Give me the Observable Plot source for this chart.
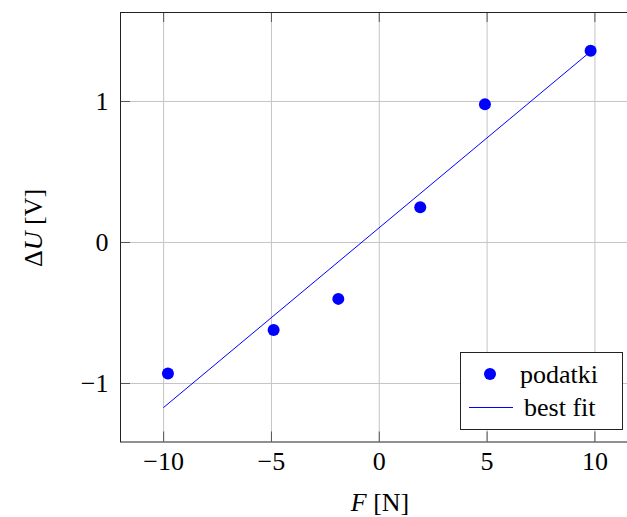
<!DOCTYPE html>
<html>
<head>
<meta charset="utf-8">
<script src="https://cdn.jsdelivr.net/npm/d3@7"></script>
<script src="https://cdn.jsdelivr.net/npm/@observablehq/plot@0.6"></script>
<style>
  html, body { margin: 0; padding: 0; background: #fff; }
  #chart { width: 627px; height: 517px; overflow: hidden; }
</style>
</head>
<body>
<div id="chart"></div>
<script>
// Data
const forceN = [-9.8, -4.9, -1.9, 1.9, 4.9, 9.8];
const deltaU = [-0.93, -0.62, -0.40, 0.25, 0.98, 1.36];
const fitF = [-10, 10];
const fitU = [-1.17, 1.38];
const xTicks = [-10, -5, 0, 5, 10];
const yTicks = [-1, 0, 1];
const legendLabels = ["podatki", "best fit"];

const points = forceN.map((f, i) => ({f, u: deltaU[i]}));
const fit = fitF.map((f, i) => ({f, u: fitU[i]}));

const W = 627, H = 517;
const mL = 120, mR = -3, mT = 12, mB = 75.5;
const plotW = W - mL - mR, plotH = H - mT - mB;
const FONT = "'Liberation Serif', 'Times New Roman', serif";
const blue = "#0000ff";
const fmt = d => (d < 0 ? "\u2212" + Math.abs(d) : String(d));

const chart = Plot.plot({
  width: W,
  height: H,
  marginLeft: mL,
  marginRight: mR,
  marginTop: mT,
  marginBottom: mB,
  style: {fontFamily: FONT, fontSize: "26px", background: "#fff", color: "#000", overflow: "hidden"},
  x: {domain: [-12, 11.65]},
  y: {domain: [-1.415, 1.631]},
  marks: [
    Plot.gridX(xTicks, {stroke: "#c4c4c4", strokeOpacity: 1, strokeWidth: 1}),
    Plot.gridY(yTicks, {stroke: "#c4c4c4", strokeOpacity: 1, strokeWidth: 1}),
    Plot.tickX(xTicks, {x: d => d, stroke: "#555", insetTop: plotH - 10}),
    Plot.tickX(xTicks, {x: d => d, stroke: "#555", insetBottom: plotH - 10}),
    Plot.tickY(yTicks, {y: d => d, stroke: "#555", insetRight: plotW - 10}),
    Plot.axisX(xTicks, {anchor: "bottom", tickSize: 0, tickPadding: 10, label: null, fontSize: 26, tickFormat: fmt}),
    Plot.axisY(yTicks, {anchor: "left", tickSize: 0, tickPadding: 12, label: null, fontSize: 26, tickFormat: fmt}),
    Plot.line(fit, {x: "f", y: "u", stroke: blue, strokeWidth: 1}),
    Plot.dot(points, {x: "f", y: "u", r: 6, fill: blue, stroke: "none"}),
    Plot.frame({stroke: "#222", strokeWidth: 1})
  ]
});

document.getElementById("chart").appendChild(chart);

const svg = d3.select(chart);

// Axis labels
const xl = svg.append("text")
  .attr("x", 380).attr("y", 511)
  .attr("text-anchor", "middle")
  .attr("font-family", FONT).attr("font-size", 26).attr("fill", "#000");
xl.append("tspan").attr("font-style", "italic").text("F");
xl.append("tspan").text(" [N]");

const yl = svg.append("text")
  .attr("transform", "translate(42,228) rotate(-90)")
  .attr("text-anchor", "middle")
  .attr("font-family", FONT).attr("font-size", 26).attr("fill", "#000");
yl.append("tspan").text("Δ");
yl.append("tspan").attr("font-style", "italic").text("U");
yl.append("tspan").text(" [V]");

// Legend
const lg = svg.append("g").attr("transform", "translate(460,352)");
lg.append("rect").attr("x", 0.5).attr("y", 0.5).attr("width", 162).attr("height", 77)
  .attr("fill", "#fff").attr("stroke", "#222").attr("stroke-width", 1);
lg.append("circle").attr("cx", 30).attr("cy", 22).attr("r", 6).attr("fill", blue);
lg.append("line").attr("x1", 9).attr("x2", 53).attr("y1", 55.5).attr("y2", 55.5)
  .attr("stroke", blue).attr("stroke-width", 1);
lg.append("text").attr("x", 60).attr("y", 31).attr("text-anchor", "start")
  .attr("font-family", FONT).attr("font-size", 26).attr("fill", "#000").text(legendLabels[0]);
lg.append("text").attr("x", 64).attr("y", 64).attr("text-anchor", "start")
  .attr("font-family", FONT).attr("font-size", 26).attr("fill", "#000").text(legendLabels[1]);
</script>
</body>
</html>
